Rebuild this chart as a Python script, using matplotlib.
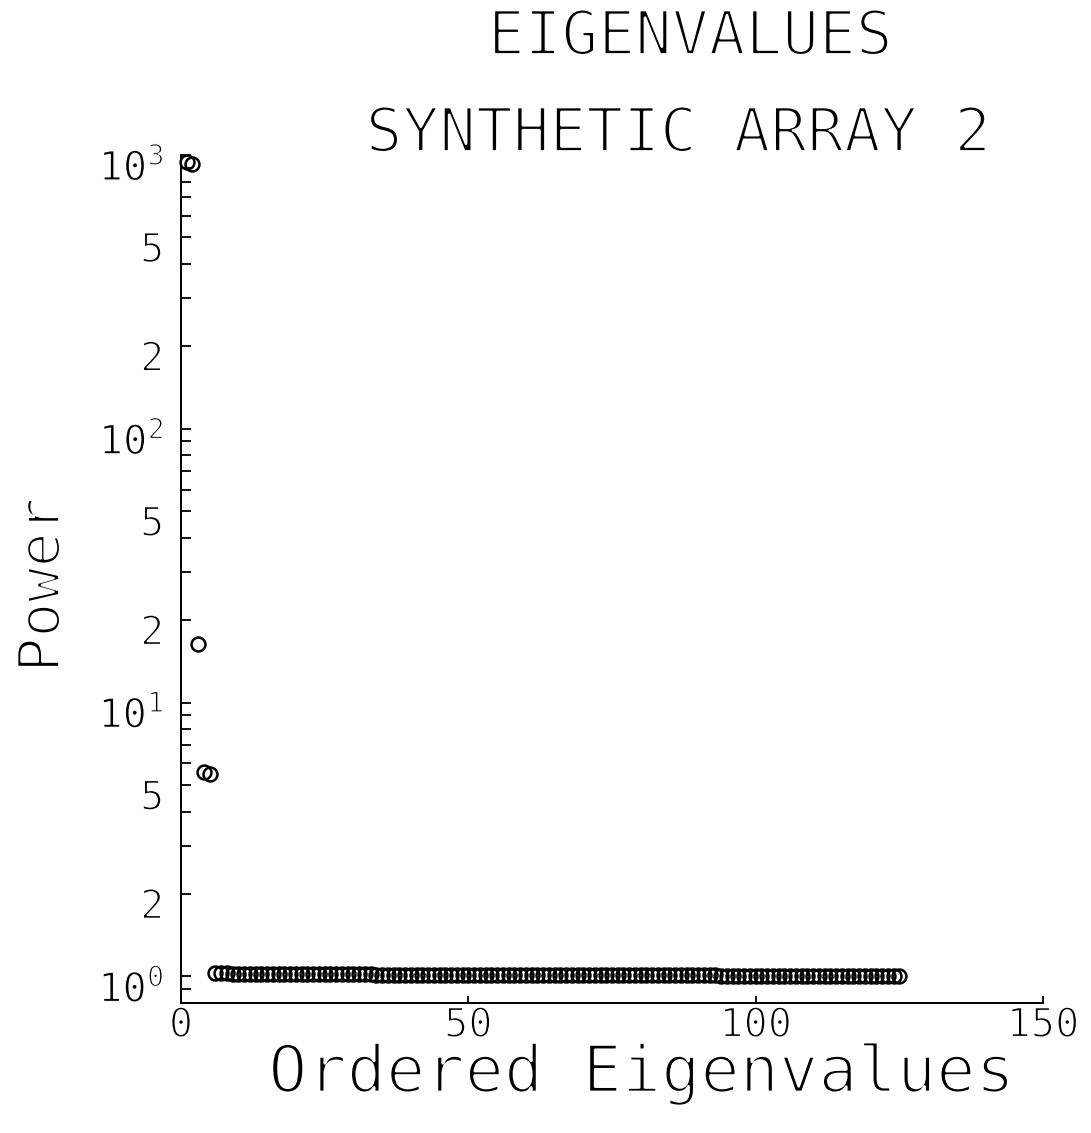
#!/usr/bin/env python3
"""Ordered eigenvalue plot for synthetic array 2 (plotter style)."""

import matplotlib

matplotlib.use("Agg")
import matplotlib.pyplot as plt
import matplotlib.patheffects as pe
from matplotlib.ticker import FixedLocator, FixedFormatter, NullFormatter
from matplotlib.transforms import ScaledTranslation

FONT = "DejaVu Sans Mono"
plt.rcParams["font.family"] = [FONT]
plt.rcParams["mathtext.fontset"] = "custom"
plt.rcParams["mathtext.rm"] = FONT
plt.rcParams["mathtext.it"] = FONT

# eigenvalue powers, largest first
top_power = [940, 930, 16.4, 5.6, 5.5]
noise_power = [
    1.03, 1.03, 1.03, 1.02, 1.02, 1.02, 1.02, 1.02, 1.02, 1.02,
    1.02, 1.02, 1.02, 1.02, 1.02, 1.02, 1.02, 1.02, 1.02, 1.02,
    1.02, 1.02, 1.02, 1.02, 1.02, 1.02, 1.02, 1.02, 1.01, 1.01,
    1.01, 1.01, 1.01, 1.01, 1.01, 1.01, 1.01, 1.01, 1.01, 1.01,
    1.01, 1.01, 1.01, 1.01, 1.01, 1.01, 1.01, 1.01, 1.01, 1.01,
    1.01, 1.01, 1.01, 1.01, 1.01, 1.01, 1.01, 1.01, 1.01, 1.01,
    1.01, 1.01, 1.01, 1.01, 1.01, 1.01, 1.01, 1.01, 1.01, 1.01,
    1.01, 1.01, 1.01, 1.01, 1.01, 1.01, 1.01, 1.01, 1.01, 1.01,
    1.01, 1.01, 1.01, 1.01, 1.01, 1.01, 1.01, 1.01, 1.00, 1.00,
    1.00, 1.00, 1.00, 1.00, 1.00, 1.00, 1.00, 1.00, 1.00, 1.00,
    1.00, 1.00, 1.00, 1.00, 1.00, 1.00, 1.00, 1.00, 1.00, 1.00,
    1.00, 1.00, 1.00, 1.00, 1.00, 1.00, 1.00, 1.00, 1.00, 1.00,
]
power = top_power + noise_power
order = list(range(1, len(power) + 1))

x_ticks = [0, 50, 100, 150]
x_tick_labels = ["0", "50", "100", "150"]
y_major = [1, 10, 100, 1000]
y_major_labels = [r"$\mathregular{10^{0}}$", r"$\mathregular{10^{1}}$",
                  r"$\mathregular{10^{2}}$", r"$\mathregular{10^{3}}$"]
y_minor = [0.8, 0.9, 2, 3, 4, 5, 6, 7, 8, 9, 20, 30, 40, 50, 60, 70, 80, 90,
           200, 300, 400, 500, 600, 700, 800, 900]
y_minor_labels = ["", "", "2", "", "", "5", "", "", "", "", "2", "", "", "5",
                  "", "", "", "", "2", "", "", "5", "", "", "", ""]

title_lines = ["EIGENVALUES", "SYNTHETIC ARRAY 2"]

# thin the glyph strokes so they look like pen-plotter lettering
thin_big = [pe.Stroke(linewidth=2.0, foreground="white")]
thin_small = [pe.Stroke(linewidth=1.3, foreground="white")]
thin_major = [pe.Stroke(linewidth=1.0, foreground="white")]

W, H, DPI = 1091, 1133, 100
fig = plt.figure(figsize=(W / DPI, H / DPI), dpi=DPI)
ax = fig.add_axes([181 / W, 1 - 1003 / H, (1043 - 181) / W, (1003 - 155) / H])

ax.plot(order, power, linestyle="none", marker="o", markersize=10,
        markerfacecolor="none", markeredgecolor="black", markeredgewidth=1.8,
        clip_on=False)

ax.set_yscale("log")
ax.set_xlim(0, 150)
ax.set_ylim(0.8, 1000)

for side in ("top", "right"):
    ax.spines[side].set_visible(False)
for side in ("left", "bottom"):
    ax.spines[side].set_linewidth(1.4)

ax.xaxis.set_major_locator(FixedLocator(x_ticks))
ax.xaxis.set_major_formatter(FixedFormatter(x_tick_labels))
ax.yaxis.set_major_locator(FixedLocator(y_major))
ax.yaxis.set_major_formatter(FixedFormatter(y_major_labels))
ax.yaxis.set_minor_locator(FixedLocator(y_minor))
ax.yaxis.set_minor_formatter(FixedFormatter(y_minor_labels))
ax.xaxis.set_minor_formatter(NullFormatter())

ax.tick_params(axis="y", which="both", direction="in", length=7, width=1.3,
               labelsize=29, pad=12)
ax.tick_params(axis="x", which="both", direction="in", length=5, width=1.3,
               labelsize=29, pad=2)

shift = ScaledTranslation(0, -9 / DPI, fig.dpi_scale_trans)
for lab in ax.get_yticklabels():
    lab.set_transform(lab.get_transform() + shift)
    lab.set_path_effects(thin_major)
for lab in ax.get_yticklabels(minor=True):
    lab.set_transform(lab.get_transform() + shift)
    lab.set_path_effects(thin_small)
for lab in ax.get_xticklabels():
    lab.set_path_effects(thin_small)

xl = ax.set_xlabel("Ordered Eigenvalues", fontsize=47)
ax.xaxis.set_label_coords((641 - 181) / 862, -0.046)
xl.set_path_effects(thin_big)

yl = ax.set_ylabel("Power", fontsize=42)
ax.yaxis.set_label_coords((43 - 181) / 862, (1003 - 585) / 848)
yl.set_va("center")
yl.set_path_effects(thin_big)

t1 = fig.text(690 / W, 1 - 38 / H, title_lines[0], fontsize=44,
              ha="center", va="center")
t2 = fig.text(678 / W, 1 - 135 / H, title_lines[1], fontsize=44,
              ha="center", va="center")
t1.set_path_effects(thin_big)
t2.set_path_effects(thin_big)

fig.savefig("out.png", dpi=DPI, facecolor="white")
